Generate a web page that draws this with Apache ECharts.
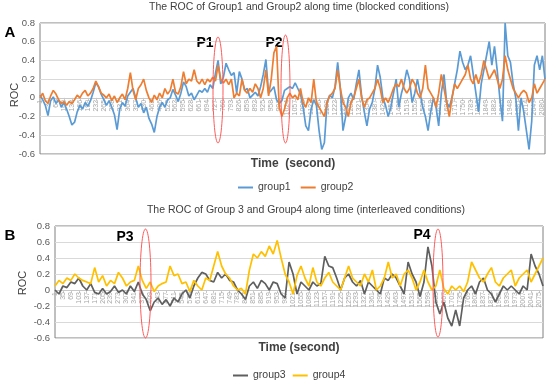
<!DOCTYPE html>
<html>
<head>
<meta charset="utf-8">
<script src="https://cdn.jsdelivr.net/npm/echarts@6/dist/echarts.min.js"></script>
<style>html,body{margin:0;padding:0;background:#fff}#c{width:550px;height:382px}</style>
</head>
<body>
<div id="c"></div>
<script>
// Panel A: time axis 1..2091 every 11 s (labels every 33 s)
const startA = 1, stepA = 11, countA = 191;
// Panel B: time axis 1..2092 every 17 s (labels every 34 s)
const startB = 1, stepB = 17, countB = 124;

const group1 = [0.03,-0.02,-0.08,-0.19,-0.03,0.01,-0.06,-0.02,-0.1,-0.05,
-0.12,-0.2,-0.29,-0.26,-0.15,-0.08,-0.12,-0.05,-0.09,-0.03,
0.06,0.16,0.12,0.04,-0.02,-0.08,-0.03,-0.1,-0.18,-0.34,
-0.12,-0.05,-0.09,0.02,0.06,0.1,0.0,-0.1,-0.06,-0.16,
-0.1,-0.22,-0.28,-0.37,-0.2,-0.1,-0.05,-0.1,-0.02,0.0,
0.09,0.03,-0.04,0.05,0.17,0.12,0.02,0.05,-0.02,0.03,
0.08,0.06,0.1,0.06,0.14,0.1,0.26,0.4,0.15,0.22,
0.37,0.3,0.24,0.27,0.05,0.28,0.2,0.08,0.1,0.0,
0.03,0.06,0.02,0.12,0.25,0.41,0.05,0.08,0.12,-0.02,
-0.06,-0.03,0.08,0.1,0.12,
0.1,0.16,0.1,0.04,-0.1,-0.3,-0.35,-0.12,-0.02,-0.08,
-0.35,-0.55,-0.48,-0.05,0.03,0.0,0.12,0.38,0.1,-0.35,
-0.2,0.0,0.05,-0.02,0.15,0.3,0.02,-0.15,-0.3,-0.12,
-0.05,0.1,0.35,0.22,0.0,-0.08,-0.2,-0.1,0.05,0.2,
-0.1,0.05,0.15,0.3,0.2,-0.05,0.05,0.2,0.05,-0.1,
-0.2,-0.35,-0.15,0.0,-0.1,-0.3,0.05,0.25,-0.05,-0.1,
0.0,0.15,0.3,0.5,0.38,0.3,0.35,0.45,0.25,0.05,
-0.15,0.15,0.3,0.45,0.6,0.35,0.55,0.3,0.0,-0.25,
0.8,0.45,0.38,0.15,0.0,-0.35,0.0,-0.15,-0.35,-0.55,
-0.25,0.35,0.45,0.3,0.45,0.2];

const group2 = [0.0,0.05,-0.03,-0.06,0.02,0.08,0.04,-0.02,-0.06,-0.04,
-0.08,-0.04,-0.06,-0.02,0.03,0.0,0.05,0.08,0.02,0.05,
0.1,0.18,0.12,0.05,0.03,0.0,0.04,-0.03,0.02,-0.05,
0.0,0.04,-0.02,0.1,0.27,0.08,-0.02,0.1,0.14,0.2,
0.08,0.0,-0.05,0.03,-0.02,0.05,0.0,0.1,0.04,0.08,
0.2,0.06,0.04,0.12,0.28,0.15,0.2,0.18,0.3,0.18,
0.15,0.2,0.14,0.2,0.17,0.22,0.18,0.35,0.2,0.16,
0.2,0.14,0.2,0.0,0.05,0.02,0.2,0.08,0.05,0.1,
0.06,0.15,0.1,0.0,0.1,0.3,0.02,0.2,0.48,0.55,
-0.1,-0.2,-0.12,0.0,0.05,
0.0,0.03,-0.02,0.1,-0.05,-0.1,0.0,-0.05,0.2,-0.05,
-0.1,-0.15,-0.2,-0.05,0.02,0.05,0.1,0.3,0.1,-0.05,
-0.1,-0.2,-0.05,0.0,0.1,0.2,0.0,-0.1,-0.02,0.0,
0.05,0.1,0.2,0.1,-0.05,0.0,-0.05,0.02,0.1,0.15,
0.12,0.2,0.1,0.05,0.1,0.2,0.15,0.05,0.0,0.1,
0.35,0.1,0.05,0.0,-0.1,0.05,0.25,0.1,-0.05,-0.2,
0.0,0.15,0.1,0.15,0.2,0.25,0.35,0.2,0.15,0.25,
0.15,0.25,0.4,0.3,0.2,0.25,0.3,0.2,0.1,0.2,
0.45,0.3,0.2,0.1,0.05,0.0,0.05,0.08,0.05,-0.05,
0.0,0.15,0.05,0.1,0.15,0.2];

const group3 = [0.0,-0.05,0.05,0.03,0.1,0.08,0.15,0.05,0.0,0.08,
-0.03,-0.05,0.02,-0.05,-0.02,0.05,-0.03,0.0,-0.05,0.05,
-0.02,0.1,-0.05,-0.12,-0.26,-0.15,-0.1,-0.18,-0.12,-0.2,
-0.1,-0.15,-0.05,0.0,-0.1,0.05,0.15,0.22,0.2,0.12,
0.1,0.22,0.15,0.2,0.12,0.1,0.0,-0.05,-0.12,0.05,
0.1,0.02,0.12,0.08,0.0,0.1,0.08,-0.05,-0.1,0.35,
0.2,-0.05,
0.1,0.05,0.0,0.1,0.05,0.08,0.42,0.3,0.28,0.15,
0.0,0.15,0.2,0.1,0.05,0.12,-0.05,0.1,0.05,0.0,
-0.05,0.15,0.12,0.2,0.15,0.05,-0.05,0.35,0.2,0.1,
-0.08,0.1,0.54,0.3,-0.15,-0.3,-0.15,-0.35,-0.45,-0.25,
-0.45,-0.1,0.0,0.05,-0.05,0.1,0.15,0.0,-0.05,-0.15,
-0.05,0.05,0.0,0.05,0.0,-0.05,0.05,0.0,0.45,0.3,
0.2,0.05];

const group4 = [0.05,0.12,0.08,0.15,0.12,0.2,0.15,0.12,0.1,0.08,
0.28,0.1,0.18,0.05,0.12,0.08,0.22,0.15,0.05,0.1,
0.12,0.3,0.12,0.02,0.1,-0.02,0.05,0.08,0.1,0.3,
0.18,0.2,0.08,0.1,-0.02,0.12,0.05,0.0,0.15,0.12,
0.3,0.48,0.3,0.2,0.15,0.05,0.0,0.02,-0.05,0.25,
0.45,0.4,0.48,0.42,0.55,0.45,0.62,0.4,0.2,0.1,
-0.05,0.18,
0.3,0.15,0.05,0.28,0.1,0.05,0.15,0.22,0.1,0.05,
0.0,0.15,0.3,0.15,0.1,0.05,0.2,0.1,0.25,0.0,
0.05,0.15,0.35,0.15,0.2,0.05,0.2,0.25,0.15,0.0,
0.1,0.25,0.1,0.0,0.05,0.25,0.02,-0.05,0.05,0.0,
0.05,-0.02,0.1,0.35,0.25,0.15,0.1,0.2,0.28,0.1,
0.05,0.15,0.2,0.25,0.05,0.15,0.2,0.25,0.1,0.2,
0.3,0.4];

const catsA = [];
for (let i = 0; i < countA; i++) catsA.push(String(startA + i * stepA));
const catsB = [];
for (let i = 0; i < countB; i++) catsB.push(String(startB + i * stepB));

const FONT = 'Liberation Sans';
const gridA = { left: 40, top: 23, width: 505, height: 131 };
const gridB = { left: 55, top: 226, width: 488, height: 112 };
const chart = echarts.init(document.getElementById('c'));

function xAxisFor(idx, cats, interval) {
  return {
    type: 'category', gridIndex: idx, data: cats, boundaryGap: false, position: 'bottom',
    axisLine: { onZero: false, lineStyle: { color: '#c8c8c8', width: 1 } },
    axisTick: { show: true, interval: interval, length: 3, lineStyle: { color: '#c8c8c8' } },
    axisLabel: { interval: interval, rotate: 90, fontSize: 7, color: '#a6a6a6', margin: 2, fontFamily: FONT },
    splitLine: { show: false }
  };
}
function yAxisFor(idx) {
  return {
    type: 'value', gridIndex: idx, min: -0.6, max: 0.8, interval: 0.2,
    axisLine: { show: false }, axisTick: { show: false },
    splitLine: { lineStyle: { color: '#d9d9d9', width: 1 } },
    axisLabel: { fontSize: 9.5, color: '#595959', margin: 5, fontFamily: FONT }
  };
}
function lineSeries(name, data, color, axis) {
  return {
    type: 'line', name: name, data: data, xAxisIndex: axis, yAxisIndex: axis,
    showSymbol: false, symbol: 'none', smooth: false,
    lineStyle: { width: 1.7, color: color }, itemStyle: { color: color }
  };
}
function gridFor(g) {
  return Object.assign({ show: true, borderColor: '#808080', borderWidth: 1, backgroundColor: 'transparent' }, g);
}

const option = {
  animation: false,
  textStyle: { fontFamily: FONT },
  grid: [gridFor(gridA), gridFor(gridB)],
  xAxis: [xAxisFor(0, catsA, 2), xAxisFor(1, catsB, 1)],
  yAxis: [yAxisFor(0), yAxisFor(1)],
  legend: [
    { data: ['group1', 'group2'], left: 233, top: 177, icon: 'rect', itemWidth: 15, itemHeight: 2, itemGap: 10,
      textStyle: { fontSize: 10.5, color: '#404040', fontFamily: FONT } },
    { data: ['group3', 'group4'], left: 228, top: 365, icon: 'rect', itemWidth: 15, itemHeight: 2, itemGap: 7,
      textStyle: { fontSize: 10.5, color: '#404040', fontFamily: FONT } }
  ],
  series: [
    lineSeries('group1', group1, '#5b9bd5', 0),
    lineSeries('group2', group2, '#ed7d31', 0),
    lineSeries('group3', group3, '#5f5f5f', 1),
    lineSeries('group4', group4, '#ffc000', 1)
  ],
  graphic: [
    { type: 'text', x: 299, y: 7, style: { text: 'The ROC of Group1 and Group2 along time (blocked conditions)', font: '10.5px "' + FONT + '"', fill: '#404040', align: 'center', verticalAlign: 'middle' } },
    { type: 'text', x: 306, y: 210, style: { text: 'The ROC of Group 3 and Group4 along time (interleaved conditions)', font: '10.5px "' + FONT + '"', fill: '#404040', align: 'center', verticalAlign: 'middle' } },
    { type: 'text', x: 10, y: 33, style: { text: 'A', font: 'bold 15px "' + FONT + '"', fill: '#000', align: 'center', verticalAlign: 'middle' } },
    { type: 'text', x: 10, y: 236, style: { text: 'B', font: 'bold 15px "' + FONT + '"', fill: '#000', align: 'center', verticalAlign: 'middle' } },
    { type: 'text', x: 15, y: 95, rotation: Math.PI / 2, style: { text: 'ROC', font: '11px "' + FONT + '"', fill: '#404040', align: 'center', verticalAlign: 'middle' } },
    { type: 'text', x: 23, y: 283, rotation: Math.PI / 2, style: { text: 'ROC', font: '11px "' + FONT + '"', fill: '#404040', align: 'center', verticalAlign: 'middle' } },
    { type: 'text', x: 293, y: 164, style: { text: 'Time  (second)', font: 'bold 12px "' + FONT + '"', fill: '#404040', align: 'center', verticalAlign: 'middle' } },
    { type: 'text', x: 299, y: 348, style: { text: 'Time (second)', font: 'bold 12px "' + FONT + '"', fill: '#404040', align: 'center', verticalAlign: 'middle' } },
    { type: 'text', x: 205, y: 43, style: { text: 'P1', font: 'bold 14px "' + FONT + '"', fill: '#000', align: 'center', verticalAlign: 'middle' } },
    { type: 'text', x: 274, y: 43, style: { text: 'P2', font: 'bold 14px "' + FONT + '"', fill: '#000', align: 'center', verticalAlign: 'middle' } },
    { type: 'text', x: 125, y: 237, style: { text: 'P3', font: 'bold 14px "' + FONT + '"', fill: '#000', align: 'center', verticalAlign: 'middle' } },
    { type: 'text', x: 422, y: 235, style: { text: 'P4', font: 'bold 14px "' + FONT + '"', fill: '#000', align: 'center', verticalAlign: 'middle' } },
    { type: 'ellipse', shape: { cx: 218, cy: 90, rx: 5, ry: 53 }, style: { fill: 'none', stroke: '#ff5a5a', lineWidth: 1 }, z: 100 },
    { type: 'ellipse', shape: { cx: 285.5, cy: 89, rx: 4.5, ry: 54 }, style: { fill: 'none', stroke: '#ff5a5a', lineWidth: 1 }, z: 100 },
    { type: 'ellipse', shape: { cx: 145.5, cy: 283.5, rx: 5.5, ry: 54.5 }, style: { fill: 'none', stroke: '#ff5a5a', lineWidth: 1 }, z: 100 },
    { type: 'ellipse', shape: { cx: 438, cy: 283, rx: 5, ry: 54 }, style: { fill: 'none', stroke: '#ff5a5a', lineWidth: 1 }, z: 100 }
  ]
};
chart.setOption(option);

// Place each time axis on the zero line of its ROC axis (as in the original figure)
const zeroA = chart.convertToPixel({ yAxisIndex: 0 }, 0);
const zeroB = chart.convertToPixel({ yAxisIndex: 1 }, 0);
chart.setOption({
  xAxis: [
    { offset: zeroA - (gridA.top + gridA.height) },
    { offset: zeroB - (gridB.top + gridB.height) }
  ]
});
</script>
</body>
</html>
